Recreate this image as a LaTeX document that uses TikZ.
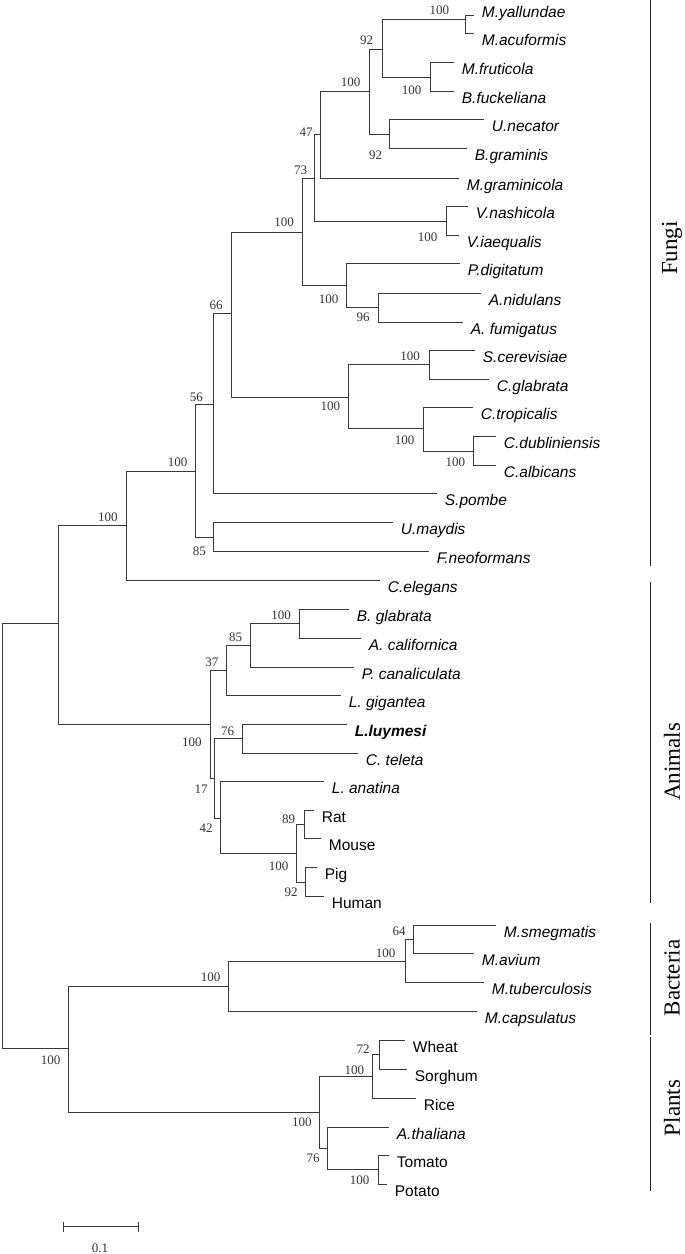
\documentclass[tikz,border=0pt]{standalone}
\usepackage{fontspec}
\setmainfont{Liberation Serif}
\newfontfamily\arialf{Liberation Sans}
\newcommand\mkc[3]{\pgfmathsetmacro\mkx{round(#2)+0.5}\pgfmathsetmacro\mky{round(#3)+0.5}\coordinate (#1) at (\mkx,\mky);}
\begin{document}
\begin{tikzpicture}[x=0.5pt,y=-0.5pt,
  br/.style={line width=0.72pt, draw=black!78},
  lab/.style={anchor=base west, inner sep=0pt, xshift=4pt, yshift=-6pt},
  sp/.style={lab, font=\arialf\itshape\fontsize{7.75}{9}\selectfont},
  cn/.style={lab, font=\arialf\fontsize{7.75}{9}\selectfont},
  bs/.style={font=\fontsize{6.5}{7}\selectfont, inner sep=0pt, text=black!80},
  clade/.style={font=\fontsize{11.5}{12}\selectfont, rotate=90, inner sep=0pt},
  cbar/.style={line width=0.9pt, draw=black!85}]
\useasboundingbox (0,0) rectangle (685,1254);

% internal nodes
\mkc{root}{1.5}{836}
\mkc{nA}{58.2}{623.3}
\mkc{nB}{67.9}{1048.3}
\mkc{nC}{125.7}{525}
\mkc{nD}{195.4}{470.7}
\mkc{nE}{213.2}{404}
\mkc{nUF}{213.2}{536.7}
\mkc{nF}{231}{313.3}
\mkc{nG}{302.3}{232}
\mkc{nH}{314}{177.7}
\mkc{nI}{320}{134}
\mkc{nJ}{369}{91}
\mkc{nK}{382}{49}
\mkc{nMY}{465}{19}
\mkc{nMF}{430}{77}
\mkc{nUB}{389}{134}
\mkc{nV}{446}{220.5}
\mkc{nP}{346.4}{285}
\mkc{nAsp}{377.5}{307.2}
\mkc{nY}{348.2}{396.7}
\mkc{nSC}{428.6}{364.3}
\mkc{nCT}{422.5}{428.3}
\mkc{nDA}{473.2}{450.7}
\mkc{nAN}{209.6}{724}
\mkc{n37}{226}{670}
\mkc{n85}{250}{645}
\mkc{nBA}{299.3}{623.3}
\mkc{n17}{214.3}{777.7}
\mkc{n76}{241.8}{738.3}
\mkc{n42}{220.4}{817.7}
\mkc{nMam}{296.4}{853.3}
\mkc{nRM}{303.6}{824.3}
\mkc{nPH}{305.4}{882.3}
\mkc{nBac}{227.9}{986}
\mkc{nMyc}{404.6}{961}
\mkc{n64}{413.2}{939}
\mkc{nPl}{319}{1111.7}
\mkc{nGr}{372.1}{1075.7}
\mkc{nWS}{379.3}{1054.3}
\mkc{n76p}{326.8}{1147.7}
\mkc{nTP}{377.9}{1169.3}

% tips
\mkc{tMya}{473.3}{15}
\mkc{tMac}{473.3}{33.3}
\mkc{tMfr}{453}{62.3}
\mkc{tBfu}{453}{90.7}
\mkc{tUne}{483}{119}
\mkc{tBgr}{466}{148}
\mkc{tMgr}{458}{178}
\mkc{tVna}{466.7}{206}
\mkc{tVia}{457.7}{235}
\mkc{tPdi}{459.3}{263.3}
\mkc{tAni}{479.6}{292.7}
\mkc{tAfu}{461.8}{321.7}
\mkc{tSce}{474.3}{350}
\mkc{tCgl}{487.5}{378.7}
\mkc{tCtr}{472.1}{407.3}
\mkc{tCdu}{494.6}{436}
\mkc{tCal}{494.6}{465}
\mkc{tSpo}{436.4}{493.3}
\mkc{tUma}{391.8}{522.3}
\mkc{tFne}{427.5}{550.7}
\mkc{tCel}{379.3}{580}
\mkc{tBgl}{348.2}{609}
\mkc{tAca}{360}{637.7}
\mkc{tPca}{352.5}{666.7}
\mkc{tLgi}{340}{695.3}
\mkc{tLlu}{345.7}{724}
\mkc{tCte}{357.1}{752.7}
\mkc{tLan}{322.5}{781}
\mkc{tRat}{312.5}{810}
\mkc{tMou}{319.6}{838.3}
\mkc{tPig}{316}{867.3}
\mkc{tHum}{323}{896}
\mkc{tMsm}{495}{925}
\mkc{tMav}{473.3}{953}
\mkc{tMtu}{483.3}{981.7}
\mkc{tMca}{476}{1011}
\mkc{tWhe}{403.6}{1040}
\mkc{tSor}{406.4}{1069}
\mkc{tRic}{415.4}{1097.7}
\mkc{tAth}{387.5}{1126.7}
\mkc{tTom}{387.5}{1155}
\mkc{tPot}{385.7}{1184}

% branches
\foreach \p/\c in {root/nA, root/nB, nA/nC, nA/nAN, nB/nBac, nB/nPl,
  nC/nD, nC/tCel, nD/nE, nD/nUF, nE/nF, nE/tSpo, nUF/tUma, nUF/tFne,
  nF/nG, nF/nY, nG/nH, nG/nP, nH/nI, nH/nV, nI/nJ, nI/tMgr, nJ/nK, nJ/nUB,
  nK/nMY, nK/nMF, nMY/tMya, nMY/tMac, nMF/tMfr, nMF/tBfu, nUB/tUne, nUB/tBgr,
  nV/tVna, nV/tVia, nP/tPdi, nP/nAsp, nAsp/tAni, nAsp/tAfu,
  nY/nSC, nY/nCT, nSC/tSce, nSC/tCgl, nCT/tCtr, nCT/nDA, nDA/tCdu, nDA/tCal,
  nAN/n37, nAN/n17, n37/n85, n37/tLgi, n85/nBA, n85/tPca, nBA/tBgl, nBA/tAca,
  n17/n76, n17/n42, n76/tLlu, n76/tCte, n42/tLan, n42/nMam,
  nMam/nRM, nMam/nPH, nRM/tRat, nRM/tMou, nPH/tPig, nPH/tHum,
  nBac/nMyc, nBac/tMca, nMyc/n64, nMyc/tMtu, n64/tMsm, n64/tMav,
  nPl/nGr, nPl/n76p, nGr/nWS, nGr/tRic, nWS/tWhe, nWS/tSor,
  n76p/tAth, n76p/nTP, nTP/tTom, nTP/tPot}
  \draw[br] (\p) |- (\c);

% leaf labels
\node[sp, yshift=5pt] (lMya) at (tMya) {M.yallundae};
\node[sp, yshift=-0.2pt] (lMac) at (tMac) {M.acuformis};
\node[sp] (lMfr) at (tMfr) {M.fruticola};
\node[sp] (lBfu) at (tBfu) {B.fuckeliana};
\node[sp] (lUne) at (tUne) {U.necator};
\node[sp] (lBgr) at (tBgr) {B.graminis};
\node[sp] (lMgr) at (tMgr) {M.graminicola};
\node[sp] (lVna) at (tVna) {V.nashicola};
\node[sp] (lVia) at (tVia) {V.iaequalis};
\node[sp] (lPdi) at (tPdi) {P.digitatum};
\node[sp] (lAni) at (tAni) {A.nidulans};
\node[sp] (lAfu) at (tAfu) {A. fumigatus};
\node[sp] (lSce) at (tSce) {S.cerevisiae};
\node[sp] (lCgl) at (tCgl) {C.glabrata};
\node[sp] (lCtr) at (tCtr) {C.tropicalis};
\node[sp] (lCdu) at (tCdu) {C.dubliniensis};
\node[sp] (lCal) at (tCal) {C.albicans};
\node[sp] (lSpo) at (tSpo) {S.pombe};
\node[sp] (lUma) at (tUma) {U.maydis};
\node[sp] (lFne) at (tFne) {F.neoformans};
\node[sp] (lCel) at (tCel) {C.elegans};
\node[sp] (lBgl) at (tBgl) {B. glabrata};
\node[sp] (lAca) at (tAca) {A. californica};
\node[sp] (lPca) at (tPca) {P. canaliculata};
\node[sp] (lLgi) at (tLgi) {L. gigantea};
\node[sp, font=\arialf\bfseries\itshape\fontsize{7.75}{9}\selectfont] (lLlu) at (tLlu) {L.luymesi};
\node[sp] (lCte) at (tCte) {C. teleta};
\node[sp] (lLan) at (tLan) {L. anatina};
\node[cn] (lRat) at (tRat) {Rat};
\node[cn] (lMou) at (tMou) {Mouse};
\node[cn] (lPig) at (tPig) {Pig};
\node[cn] (lHum) at (tHum) {Human};
\node[sp] (lMsm) at (tMsm) {M.smegmatis};
\node[sp] (lMav) at (tMav) {M.avium};
\node[sp] (lMtu) at (tMtu) {M.tuberculosis};
\node[sp] (lMca) at (tMca) {M.capsulatus};
\node[cn] (lWhe) at (tWhe) {Wheat};
\node[cn] (lSor) at (tSor) {Sorghum};
\node[cn] (lRic) at (tRic) {Rice};
\node[sp] (lAth) at (tAth) {A.thaliana};
\node[cn] (lTom) at (tTom) {Tomato};
\node[cn] (lPot) at (tPot) {Potato};

% bootstrap values
\node[bs] (bMY) at (439.3,10) {100};
\node[bs] (bK) at (366.7,40) {92};
\node[bs] (bMF) at (411.7,90) {100};
\node[bs] (bJ) at (350.7,82.7) {100};
\node[bs] (bUB) at (375.7,155) {92};
\node[bs] (bI) at (306,132.3) {47};
\node[bs] (bH) at (300.7,170.7) {73};
\node[bs] (bG) at (284,222.7) {100};
\node[bs] (bV) at (427.7,237.7) {100};
\node[bs] (bP) at (328.6,299.3) {100};
\node[bs] (bAsp) at (363.2,317.3) {96};
\node[bs] (bF) at (216,305.7) {66};
\node[bs] (bY) at (330.4,406) {100};
\node[bs] (bSC) at (410,356) {100};
\node[bs] (bCT) at (404.6,440) {100};
\node[bs] (bDA) at (455.4,462.3) {100};
\node[bs] (bE) at (196.4,397.3) {56};
\node[bs] (bD) at (177.5,462.3) {100};
\node[bs] (bUF) at (199.3,551.7) {85};
\node[bs] (bC) at (107.9,517.3) {100};
\node[bs] (bBA) at (281,615) {100};
\node[bs] (b85) at (235.7,637.3) {85};
\node[bs] (b37) at (211.8,662.3) {37};
\node[bs] (bAN) at (191.8,742.7) {100};
\node[bs] (b76) at (227.5,731.7) {76};
\node[bs] (b17) at (201,789.3) {17};
\node[bs] (b42) at (206,827.7) {42};
\node[bs] (bMam) at (278.6,866) {100};
\node[bs] (bRM) at (288.6,819) {89};
\node[bs] (bPH) at (291,892.7) {92};
\node[bs] (bB) at (50.7,1060) {100};
\node[bs] (bBac) at (210.7,977.7) {100};
\node[bs] (bMyc) at (385.7,953.3) {100};
\node[bs] (b64) at (399,931.7) {64};
\node[bs] (bPl) at (301.8,1122.3) {100};
\node[bs] (bGr) at (354.3,1070) {100};
\node[bs] (bWS) at (363.2,1049.3) {72};
\node[bs] (b76p) at (313.2,1158.3) {76};
\node[bs] (bTP) at (359.6,1180.7) {100};

% clade bars
\mkc{fT}{650}{-1}   \mkc{fB}{650}{565}
\mkc{aT}{650}{581}  \mkc{aB}{650}{902}
\mkc{bT}{650}{922}  \mkc{bBt}{650}{1034}
\mkc{pT}{650}{1036} \mkc{pB}{650}{1190}
\draw[cbar] (fT) -- (fB);
\draw[cbar] (aT) -- (aB);
\draw[cbar] (bT) -- (bBt);
\draw[cbar] (pT) -- (pB);
\node[clade] (cF) at (672,248) {Fungi};
\node[clade] (cA) at (672,762) {Animals};
\node[clade] (cB) at (672,978) {Bacteria};
\node[clade] (cP) at (672,1108) {Plants};

% scale bar
\mkc{sL}{63}{1226}
\mkc{sR}{138}{1226}
\draw[br, line width=0.8pt] (sL) -- (sR);
\draw[br, line width=0.8pt] ([yshift=2.5pt]sL) -- ([yshift=-2.5pt]sL);
\draw[br, line width=0.8pt] ([yshift=2.5pt]sR) -- ([yshift=-2.5pt]sR);
\node[bs] (sLab) at (100,1248) {0.1};
\end{tikzpicture}
\end{document}
